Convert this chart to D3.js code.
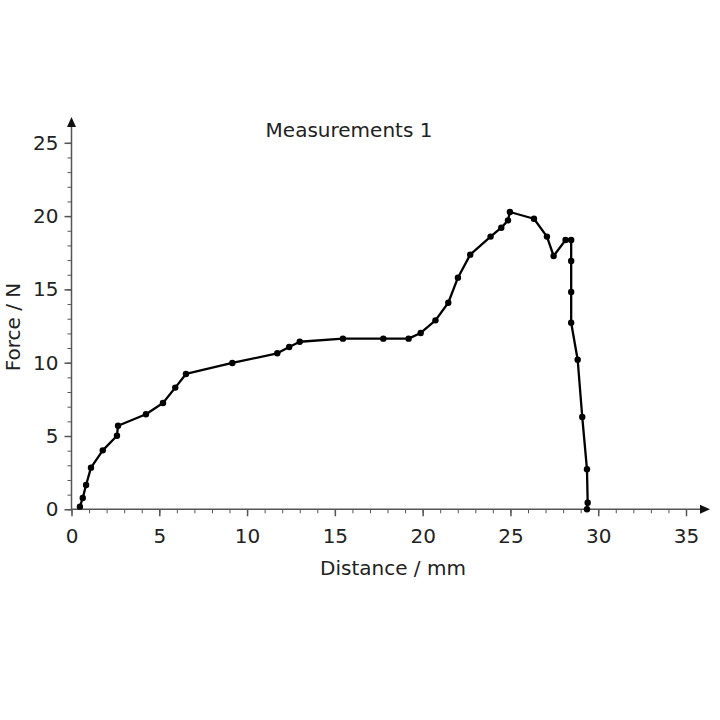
<!DOCTYPE html>
<html>
<head>
<meta charset="utf-8">
<script src="https://cdn.jsdelivr.net/npm/d3@7"></script>
<style>
  body { margin: 0; background: #fff; }
  text { font-family: "DejaVu Sans", sans-serif; fill: #222; }
</style>
</head>
<body>
<div id="chart"></div>
<script>
// Measured points (distance in mm, force in N)
const distance = [0.48, 0.64, 0.83, 1.11, 1.78, 2.59, 2.65, 4.24, 5.21, 5.91, 6.52, 9.16,
  11.72, 12.40, 13.0, 15.46, 17.76, 19.2, 19.89, 20.73, 21.46, 22.01, 22.71, 23.87,
  24.48, 24.86, 24.97, 26.34, 27.08, 27.46, 28.14, 28.46, 28.46, 28.46, 28.46, 28.83,
  29.09, 29.36, 29.40, 29.36];
const force = [0.18, 0.77, 1.66, 2.84, 4.02, 5.02, 5.70, 6.48, 7.25, 8.30, 9.23, 9.98,
  10.64, 11.07, 11.43, 11.64, 11.64, 11.64, 12.03, 12.89, 14.09, 15.80, 17.37, 18.60,
  19.21, 19.71, 20.28, 19.82, 18.60, 17.28, 18.37, 18.37, 16.94, 14.82, 12.73, 10.20,
  6.30, 2.73, 0.45, 0.0];
const xTicks = [0, 5, 10, 15, 20, 25, 30, 35];
const yTicks = [0, 5, 10, 15, 20, 25];
const title = "Measurements 1";

const W = 720, H = 720;
const FS = 20;
const svg = d3.select("#chart").append("svg")
  .attr("width", W).attr("height", H);

const x = d3.scaleLinear().domain([0, 35]).range([71.5, 686]);
const y = d3.scaleLinear().domain([0, 25]).range([509.3, 142.8]);

const axisColor = "#555";

// X axis: minor ticks every 1 mm, major every 5
const gx = svg.append("g").attr("transform", `translate(0, ${y(0)})`);
gx.call(d3.axisBottom(x).tickValues(d3.range(0, 36, 1)).tickSize(4).tickFormat(""));
gx.select(".domain").remove();
gx.selectAll(".tick line").attr("stroke", axisColor);
const gxMaj = svg.append("g").attr("transform", `translate(0, ${y(0)})`);
gxMaj.call(d3.axisBottom(x).tickValues(xTicks).tickSize(7).tickPadding(13));
gxMaj.select(".domain").remove();
gxMaj.selectAll(".tick line").attr("stroke", axisColor).attr("stroke-width", 1.5);
gxMaj.selectAll(".tick text").attr("font-size", FS).style("font-family", "DejaVu Sans, sans-serif");

svg.append("line")
  .attr("x1", x(0)).attr("x2", 702)
  .attr("y1", y(0)).attr("y2", y(0))
  .attr("stroke", axisColor).attr("stroke-width", 1.5);
svg.append("path")
  .attr("d", `M710,${y(0)} L700,${y(0) - 4.5} L700,${y(0) + 4.5} Z`)
  .attr("fill", "#111");

// Y axis: minor ticks every 1 N, major every 5
const gy = svg.append("g").attr("transform", `translate(${x(0)}, 0)`);
gy.call(d3.axisLeft(y).tickValues(d3.range(0, 26, 1)).tickSize(4).tickFormat(""));
gy.select(".domain").remove();
gy.selectAll(".tick line").attr("stroke", axisColor);
const gyMaj = svg.append("g").attr("transform", `translate(${x(0)}, 0)`);
gyMaj.call(d3.axisLeft(y).tickValues(yTicks).tickSize(7).tickPadding(6));
gyMaj.select(".domain").remove();
gyMaj.selectAll(".tick line").attr("stroke", axisColor).attr("stroke-width", 1.5);
gyMaj.selectAll(".tick text").attr("font-size", FS).style("font-family", "DejaVu Sans, sans-serif");

svg.append("line")
  .attr("x1", x(0)).attr("x2", x(0))
  .attr("y1", y(0)).attr("y2", 125)
  .attr("stroke", axisColor).attr("stroke-width", 1.5);
svg.append("path")
  .attr("d", `M${x(0)},117 L${x(0) - 4.5},127 L${x(0) + 4.5},127 Z`)
  .attr("fill", "#111");

// Labels
svg.append("text")
  .attr("x", 349).attr("y", 137)
  .attr("text-anchor", "middle").attr("font-size", FS)
  .text(title);
svg.append("text")
  .attr("x", 393).attr("y", 575)
  .attr("text-anchor", "middle").attr("font-size", FS)
  .text("Distance / mm");
svg.append("text")
  .attr("transform", "translate(20, 327) rotate(-90)")
  .attr("text-anchor", "middle").attr("font-size", FS)
  .text("Force / N");

// Line + markers
const pts = distance.map((d, i) => [d, force[i]]);
svg.append("path")
  .datum(pts)
  .attr("fill", "none")
  .attr("stroke", "#000")
  .attr("stroke-width", 2.3)
  .attr("stroke-linejoin", "round")
  .attr("d", d3.line().x(d => x(d[0])).y(d => y(d[1])));

svg.selectAll("circle.pt")
  .data(pts)
  .join("circle")
  .attr("class", "pt")
  .attr("cx", d => x(d[0]))
  .attr("cy", d => y(d[1]))
  .attr("r", 3.2)
  .attr("fill", "#000");
</script>
</body>
</html>
